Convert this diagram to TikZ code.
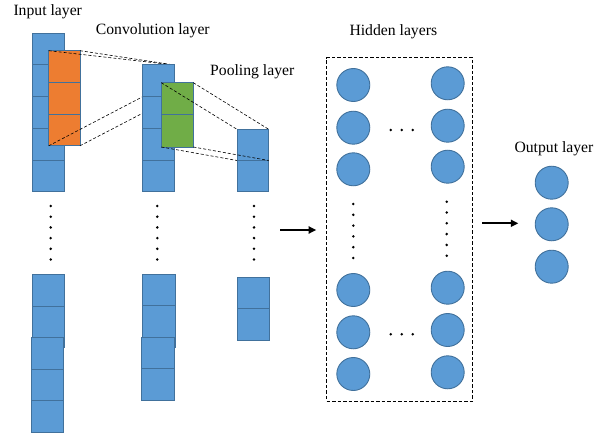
\documentclass[tikz,border=0pt]{standalone}
\usepackage{fontspec}
\setmainfont{Liberation Serif}
\usetikzlibrary{arrows.meta}
\pgfdeclarelayer{low}
\pgfdeclarelayer{mid}
\pgfsetlayers{low,mid,main}
\definecolor{cblue}{HTML}{5B9BD5}
\definecolor{cedge}{HTML}{41719C}
\definecolor{corange}{HTML}{ED7D31}
\definecolor{cgreen}{HTML}{70AD47}
\tikzset{
  bcell/.style={draw=cedge, fill=cblue, line width=1pt, inner sep=0pt, outer sep=0pt},
  ocell/.style={draw=cedge, fill=corange, line width=1pt, inner sep=0pt, outer sep=0pt},
  gcell/.style={draw=cedge, fill=cgreen, line width=1pt, inner sep=0pt, outer sep=0pt},
  neuron/.style={circle, draw=cedge, fill=cblue, line width=0.9pt, minimum size=33pt, inner sep=0pt},
  dline/.style={draw=black, line width=0.6pt, dash pattern=on 3pt off 2pt},
  lab/.style={font=\fontsize{15.7}{18}\selectfont, inner sep=0pt, anchor=base west},
  flow/.style={draw=black, line width=2pt, -{Triangle[length=7.5pt,width=7pt]}},
  hbox/.style={draw=black, dash pattern=on 3.5pt off 2pt, line width=1pt, inner sep=0pt},
  dotc/.style={fill=black}
}
% #1 name, #2 x left, #3 y top, #4 n cells, #5 cell height, #6 width, #7 style
\newcommand{\mkcol}[7]{%
  \foreach \i in {1,...,#4}{%
    \node[#7, minimum width=#6pt, minimum height=#5pt, anchor=north west] (#1-\i) at (#2, {#3+(\i-1)*#5}) {};
  }}
\begin{document}
\begin{tikzpicture}[x=1pt,y=-1pt]
\useasboundingbox (0,0) rectangle (610,436);

% labels
\node[lab] (tin) at (13.3,15.2) {Input layer};
\node[lab] (tconv) at (95.7,34.3) {Convolution layer};
\node[lab] (tpool) at (210,75) {Pooling layer};
\node[lab] (thid) at (349.3,36) {Hidden layers};
\node[lab] (tout) at (514.3,152.7) {Output layer};

% input layer (top) and kernel
\begin{pgfonlayer}{low}
\mkcol{inA}{32.3}{33.3}{5}{31.7}{31.7}{bcell}
\mkcol{ker}{48.7}{50.7}{3}{31.7}{31.3}{ocell}
\end{pgfonlayer}

% convolution layer (top)
\mkcol{cvA}{142.7}{65}{4}{31.7}{31.6}{bcell}

\begin{pgfonlayer}{mid}
\draw[dline] (ker-1.north west) -- (cvA-1.north east);
\draw[dline] (ker-1.north east) -- (cvA-1.north east);
\draw[dline] (ker-3.south west) -- (cvA-1.south west);
\draw[dline] (ker-3.south east) -- (cvA-1.south east);
\end{pgfonlayer}

% pooling layer (top)
\mkcol{plA}{237}{129.3}{2}{31.2}{31.7}{bcell}

% pooling window
\mkcol{win}{161.3}{82.7}{2}{32.15}{32}{gcell}

\draw[dline] (win-1.north west) -- (plA-1.north west);
\draw[dline] (win-1.north east) -- (plA-1.north east);
\draw[dline] (win-2.south west) -- (plA-1.south west);
\draw[dline] (win-2.south east) -- (plA-1.south east);

% vertical dots of the three left columns
\foreach \x in {50.7,157.3,254}{
  \foreach \y in {206,216.7,227.4,238.1,248.8,259.5}{
    \fill[dotc] (\x,\y) circle (1.4);
  }
}

% lower parts of the columns
\mkcol{inB}{32.3}{274.3}{2}{31.7}{31.7}{bcell}
\node[bcell, minimum width=31.7pt, minimum height=10pt, anchor=north west] (inBx) at (32.3,337.7) {};
\mkcol{inC}{31.7}{337.3}{3}{31.7}{31.7}{bcell}
\mkcol{cvB}{142.7}{274.3}{2}{31.5}{32.3}{bcell}
\node[bcell, minimum width=32.3pt, minimum height=10pt, anchor=north west] (cvBx) at (142.7,337.3) {};
\mkcol{cvC}{141.7}{337}{2}{31.85}{32.3}{bcell}
\mkcol{plB}{237}{277}{2}{31.85}{32}{bcell}

% arrow into hidden layers
\coordinate (a1s) at (280,230);
\node[hbox, minimum width=146pt, minimum height=343.3pt] (hid) at (399.7,229.35) {};
\draw[flow] (a1s) -- ([xshift=-10pt]hid.west |- a1s);

% hidden neurons
\node[neuron] (h1a) at (353.3,85) {};
\node[neuron] (h1b) at (353.3,127.7) {};
\node[neuron] (h1c) at (353.3,169.3) {};
\node[neuron] (h1d) at (353.3,290) {};
\node[neuron] (h1e) at (353.3,332.3) {};
\node[neuron] (h1f) at (353.3,374) {};
\node[neuron] (h2a) at (447.7,83.3) {};
\node[neuron] (h2b) at (447.7,125.7) {};
\node[neuron] (h2c) at (447.7,166.7) {};
\node[neuron] (h2d) at (447.7,287.7) {};
\node[neuron] (h2e) at (447.7,330) {};
\node[neuron] (h2f) at (447.7,372.3) {};

\foreach \x in {390.7,401.7,412.7}{
  \fill[dotc] (\x,130) circle (1.4);
  \fill[dotc] (\x,334.3) circle (1.4);
}
\foreach \y in {204,214.8,225.6,236.4,247.2,258}{
  \fill[dotc] (353.3,\y) circle (1.4);
}
\foreach \y in {201.7,212.5,223.3,234.1,244.9,255.7}{
  \fill[dotc] (446.7,\y) circle (1.4);
}

% output neurons
\node[neuron] (o1) at (551.7,182.7) {};
\node[neuron] (o2) at (551.7,224.3) {};
\node[neuron] (o3) at (551.7,266.7) {};

\coordinate (a2e) at (518.3,223.3);
\draw[flow] ([xshift=9pt]hid.east |- a2e) -- (a2e);
\end{tikzpicture}
\end{document}
